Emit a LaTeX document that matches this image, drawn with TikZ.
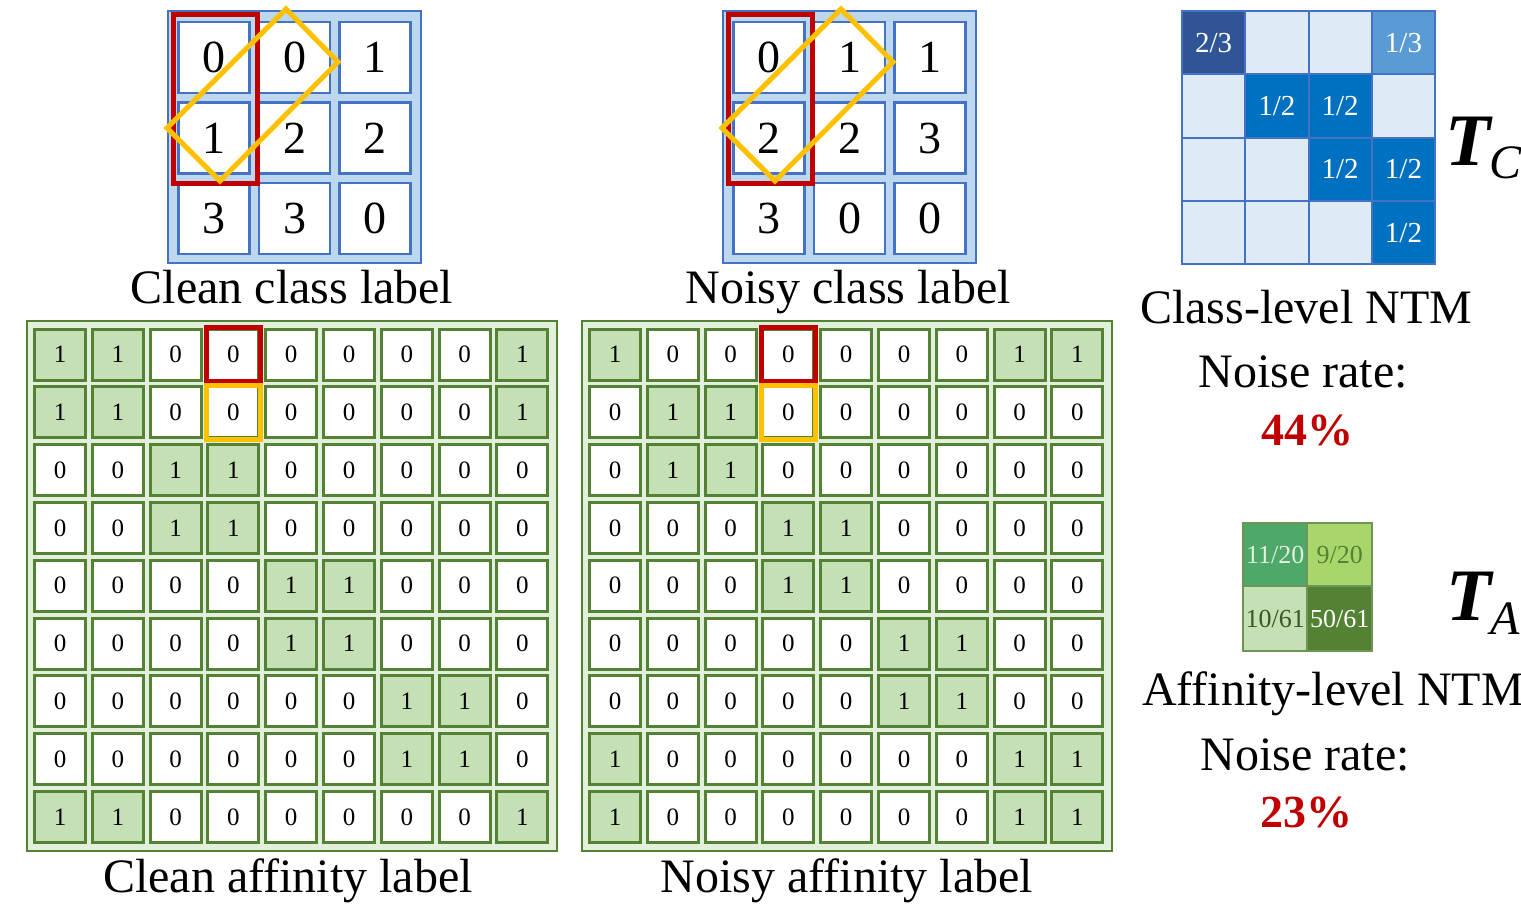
\documentclass[tikz,border=0pt]{standalone}
\usepackage{fontspec}
\setmainfont{Liberation Serif}
\definecolor{bluefill}{HTML}{BDD7EE}
\definecolor{blueline}{HTML}{4472C4}
\definecolor{redbox}{HTML}{C00000}
\definecolor{yellowbox}{HTML}{FFC000}
\definecolor{greenline}{HTML}{548235}
\definecolor{greenfill}{HTML}{C5E0B4}
\definecolor{greenbg}{HTML}{E2EFDA}
\definecolor{navycell}{HTML}{2F5597}
\definecolor{midblue}{HTML}{5B9BD5}
\definecolor{deepblue}{HTML}{0070C0}
\definecolor{paleblue}{HTML}{DEEBF7}
\definecolor{seagreen}{HTML}{4EA86A}
\definecolor{limegreen}{HTML}{A9D66B}
\definecolor{darkolive}{HTML}{385723}
\newcommand{\fsz}[1]{\fontsize{#1}{#1}\selectfont}
\tikzset{
  classcell/.style={draw=blueline, line width=2.5pt, fill=white, minimum size=71pt, inner sep=0pt, font=\fsz{46}},
  classframe/.style={draw=blueline, line width=2.5pt, fill=bluefill},
  affcell/.style={draw=greenline, line width=3pt, fill=white, minimum size=51pt, inner sep=0pt, font=\fsz{25}},
  affone/.style={affcell, fill=greenfill},
  affframe/.style={draw=greenline, line width=2.5pt, fill=greenbg},
  redmark/.style={draw=redbox, line width=5pt},
  yellowmark/.style={draw=yellowbox, line width=5pt, line join=miter},
  caption/.style={anchor=base, font=\fsz{48}, inner sep=0pt},
  ratetext/.style={anchor=base, font=\fsz{46}\bfseries, text=redbox, inner sep=0pt},
  ntmcell/.style={draw=blueline, line width=2pt, minimum size=63.3pt, inner sep=0pt, font=\fsz{29}, text=white},
  afntm/.style={draw=greenline!85!white, line width=2pt, minimum size=64.5pt, inner sep=0pt, font=\fsz{26}},
  symT/.style={anchor=base west, inner sep=0pt, font=\fsz{74}\bfseries\itshape},
  symsub/.style={anchor=base west, inner sep=0pt, font=\fsz{48}\itshape},
}
\begin{document}
\begin{tikzpicture}[x=1pt,y=-1pt]
\useasboundingbox (0,0) rectangle (1521,910);

% ---- class label grids (3x3) ----
\foreach \pre/\ox/\vals in {cc/168/{0,0,1,1,2,2,3,3,0}, nc/723/{0,1,1,2,2,3,3,0,0}}{
  \draw[classframe] (\ox,11) rectangle (\ox+253,263);
  \foreach \v [count=\i from 0] in \vals {
    \pgfmathtruncatemacro{\r}{div(\i,3)}
    \pgfmathtruncatemacro{\c}{mod(\i,3)}
    \node[classcell] (\pre-\r-\c) at (\ox+46+80.5*\c, 57.5+80.5*\r) {\v};
  }
  \draw[redmark] (\ox+5,14) rectangle (\ox+89,183);
  \draw[yellowmark] (\ox+118,9) -- (\ox+170,62) -- (\ox+52,181) -- (\ox-1,128) -- cycle;
}
\node[caption] (cclab) at (292,303) {Clean class label};
\node[caption] (nclab) at (848,303) {Noisy class label};

% ---- affinity label grids (9x9) ----
\foreach \pre/\ox/\rows in {
  ca/27/{{1,1,0,0,0,0,0,0,1},{1,1,0,0,0,0,0,0,1},{0,0,1,1,0,0,0,0,0},{0,0,1,1,0,0,0,0,0},{0,0,0,0,1,1,0,0,0},{0,0,0,0,1,1,0,0,0},{0,0,0,0,0,0,1,1,0},{0,0,0,0,0,0,1,1,0},{1,1,0,0,0,0,0,0,1}},
  na/582/{{1,0,0,0,0,0,0,1,1},{0,1,1,0,0,0,0,0,0},{0,1,1,0,0,0,0,0,0},{0,0,0,1,1,0,0,0,0},{0,0,0,1,1,0,0,0,0},{0,0,0,0,0,1,1,0,0},{0,0,0,0,0,1,1,0,0},{1,0,0,0,0,0,0,1,1},{1,0,0,0,0,0,0,1,1}}}{
  \draw[affframe] (\ox,321) rectangle (\ox+530,851);
  \foreach \row [count=\r from 0] in \rows {
    \foreach \bit [count=\c from 0] in \row {
      \ifnum\bit=1
        \node[affone] (\pre-\r-\c) at (\ox+33+57.8*\c, 354.5+57.8*\r) {1};
      \else
        \node[affcell] (\pre-\r-\c) at (\ox+33+57.8*\c, 354.5+57.8*\r) {0};
      \fi
    }
  }
  \draw[redmark] (\pre-0-3.north west) rectangle (\pre-0-3.south east);
  \draw[yellowmark] (\pre-1-3.north west) rectangle (\pre-1-3.south east);
}
\node[caption] (calab) at (288,892) {Clean affinity label};
\node[caption] (nalab) at (847,892) {Noisy affinity label};

% ---- class-level noise transition matrix ----
\foreach \r/\c/\col/\txt in {
  0/0/navycell/{2/3}, 0/1/paleblue/{}, 0/2/paleblue/{}, 0/3/midblue/{1/3},
  1/0/paleblue/{}, 1/1/deepblue/{1/2}, 1/2/deepblue/{1/2}, 1/3/paleblue/{},
  2/0/paleblue/{}, 2/1/paleblue/{}, 2/2/deepblue/{1/2}, 2/3/deepblue/{1/2},
  3/0/paleblue/{}, 3/1/paleblue/{}, 3/2/paleblue/{}, 3/3/deepblue/{1/2}}{
  \node[ntmcell, fill=\col] (tc-\r-\c) at (1213.6+63.3*\c, 42.7+63.3*\r) {\txt};
}
\node[symT] (tcT) at (1445,165) {T};
\node[symsub] (tcC) at (1489,178) {C};
\node[caption] (tclab) at (1306,323) {Class-level NTM};
\node[caption] (tcnr) at (1303,387) {Noise rate:};
\node[ratetext] (tcrate) at (1307,445) {44\%};

% ---- affinity-level noise transition matrix ----
\node[afntm, fill=seagreen, text=greenbg] (ta-0-0) at (1275.2,555) {11/20};
\node[afntm, fill=limegreen, text=greenline] (ta-0-1) at (1339.7,555) {9/20};
\node[afntm, fill=greenfill, text=darkolive] (ta-1-0) at (1275.2,618.5) {10/61};
\node[afntm, fill=greenline, text=white] (ta-1-1) at (1339.7,618.5) {50/61};
\node[symT] (taT) at (1446,620) {T};
\node[symsub] (taA) at (1490,634) {A};
\node[caption] (talab) at (1333,705) {Affinity-level NTM};
\node[caption] (tanr) at (1305,770) {Noise rate:};
\node[ratetext] (tarate) at (1306,827) {23\%};
\end{tikzpicture}
\end{document}
